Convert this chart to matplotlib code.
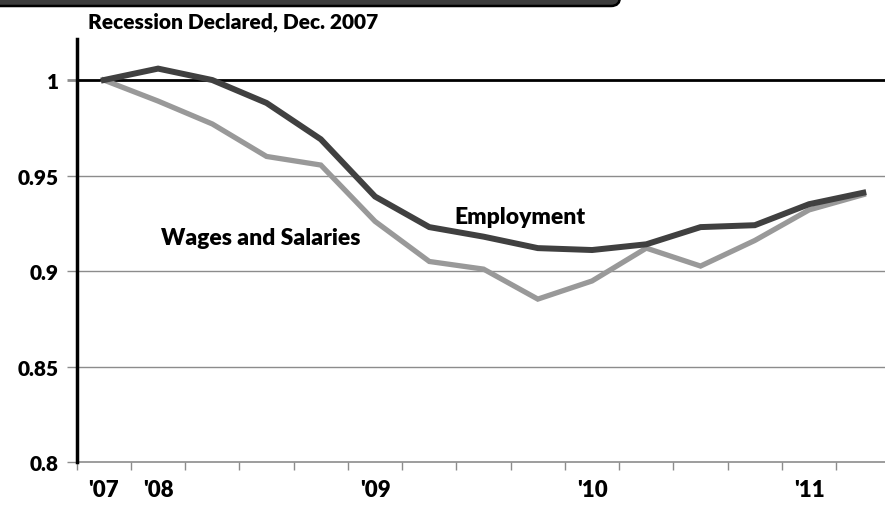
import numpy as np
import matplotlib.pyplot as plt
from matplotlib.patches import FancyBboxPatch
from matplotlib.transforms import IdentityTransform

# quarterly points, Q4 2007 .. Q2 2011 (index = 1 at recession start)
quarters = ["'07", "'08", "", "", "", "'09", "", "", "", "'10", "", "", "", "'11", ""]
employment = [1.000, 1.006, 1.000, 0.988, 0.969, 0.939, 0.923, 0.918,
              0.912, 0.911, 0.914, 0.923, 0.924, 0.935, 0.941]
wages = [1.000, 0.989, 0.977, 0.960, 0.9555, 0.926, 0.905, 0.901,
         0.8853, 0.8948, 0.912, 0.9026, 0.916, 0.932, 0.940]
y_ticks = [0.8, 0.85, 0.9, 0.95, 1.0]
y_tick_labels = ["0.8", "0.85", "0.9", "0.95", "1"]

FONT = "Lato"

fig = plt.figure(figsize=(8.85, 5.06), dpi=100)
ax = fig.add_axes([76.7 / 885, 43 / 506, (885 - 76.7) / 885, 423 / 506])

x = np.arange(len(quarters))

for yv in [0.85, 0.9, 0.95]:
    ax.axhline(yv, color="#8c8c8c", lw=1.0, zorder=1)
ax.axhline(1.0, color="black", lw=2.0, zorder=2)

ax.plot(x, wages, color="#999999", lw=3.8, solid_joinstyle="miter", zorder=3)
ax.plot(x, employment, color="#404040", lw=4.3, solid_joinstyle="miter", zorder=4)

ax.set_xlim(-0.5, 14.4)
ax.set_ylim(0.8, 1.0215)

ax.set_xticks(x - 0.5, minor=False)
ax.set_xticklabels([])
ax.set_xticks(x, minor=True)
ax.set_xticklabels(quarters, minor=True, fontfamily=FONT, fontweight="heavy", fontsize=16)
ax.tick_params(axis="x", which="major", direction="out", length=6, width=1, color="#8c8c8c")
ax.tick_params(axis="x", which="minor", length=0, pad=12)

ax.set_yticks(y_ticks)
ax.set_yticklabels(y_tick_labels, fontfamily=FONT, fontweight="heavy", fontsize=15)
ax.tick_params(axis="y", direction="out", length=7, width=1, color="#8c8c8c", pad=6)
for i, t in enumerate(ax.yaxis.get_major_ticks()):
    if y_ticks[i] == 1.0:
        t.tick1line.set_color("black")
        t.tick1line.set_markeredgewidth(2)

for s in ["top", "right"]:
    ax.spines[s].set_visible(False)
ax.spines["left"].set_color("black")
ax.spines["left"].set_linewidth(2.5)
ax.spines["left"].set_zorder(5)
ax.spines["bottom"].set_color("#8c8c8c")
ax.spines["bottom"].set_linewidth(1.2)

ax.text(7.67, 0.9288, "Employment", ha="center", va="center",
        fontfamily=FONT, fontweight="heavy", fontsize=16.5)
ax.text(2.9, 0.9178, "Wages and Salaries", ha="center", va="center",
        fontfamily=FONT, fontweight="heavy", fontsize=16.5)

fig.text(88 / 885, 1 - 22 / 506, "Recession Declared, Dec. 2007", ha="left", va="center",
         fontfamily=FONT, fontweight="heavy", fontsize=15)

# dark tab across the top edge
band = FancyBboxPatch((-20, 499), 640, 30, boxstyle="round,pad=0,rounding_size=9",
                      facecolor="#3c3c3c", edgecolor="black", lw=1.8,
                      transform=IdentityTransform(), clip_on=False)
fig.patches.append(band)

fig.savefig("out.png", dpi=100)
